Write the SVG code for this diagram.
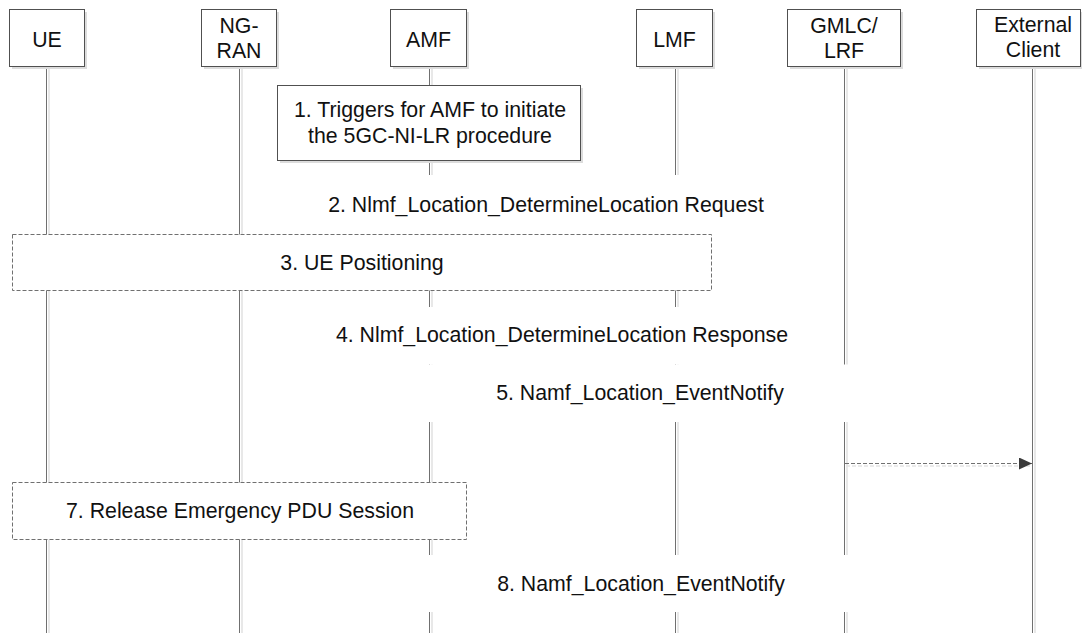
<svg xmlns="http://www.w3.org/2000/svg" width="1082" height="633" viewBox="0 0 1082 633">
  <style>
    .box { fill: #ffffff; stroke: #505050; stroke-width: 1; }
    .shadow { fill: #dcdcdc; }
    .life { stroke: #707070; stroke-width: 1; }
    .lifesh { stroke: #e8e8e8; stroke-width: 2; }
    .txt { font-family: "Liberation Sans", Arial, sans-serif; font-size: 21.3px; fill: #111111; text-anchor: middle; }
    .dbox { fill: #ffffff; stroke: #707070; stroke-width: 1; stroke-dasharray: 4 2; }
    .lblbg { fill: #ffffff; stroke: none; }
    .dash { stroke: #707070; stroke-width: 1.2; stroke-dasharray: 4 2; fill: none; }
  </style>
  <defs>
    <marker id="arr" markerWidth="14" markerHeight="14" refX="13" refY="6" orient="auto" markerUnits="userSpaceOnUse">
      <path d="M0,0 L13,6 L0,12 Z" fill="#3a3a3a"/>
    </marker>
  </defs>
  <rect x="0" y="0" width="1082" height="633" fill="#ffffff"/>

  <g id="node-ue">
    <line class="lifesh" x1="49" y1="66" x2="49" y2="633"/>
    <line class="life" x1="46.5" y1="66" x2="46.5" y2="633"/>
    <rect class="shadow" x="12" y="12" width="75" height="57"/>
    <rect class="box" x="9.5" y="9.5" width="75" height="57"/>
    <text class="txt" x="47" y="46.5">UE</text>
  </g>
  <g id="node-ngran">
    <line class="lifesh" x1="242" y1="66" x2="242" y2="633"/>
    <line class="life" x1="239.5" y1="66" x2="239.5" y2="633"/>
    <rect class="shadow" x="204" y="12" width="75" height="57"/>
    <rect class="box" x="201.5" y="9.5" width="75" height="57"/>
    <text class="txt" x="239" y="32.5">NG-</text>
    <text class="txt" x="239" y="58">RAN</text>
  </g>
  <g id="node-amf">
    <line class="lifesh" x1="432" y1="66" x2="432" y2="633"/>
    <line class="life" x1="429.5" y1="66" x2="429.5" y2="633"/>
    <rect class="shadow" x="393" y="12" width="76" height="57"/>
    <rect class="box" x="390.5" y="9.5" width="76" height="57"/>
    <text class="txt" x="428.5" y="46.5">AMF</text>
  </g>
  <g id="node-lmf">
    <line class="lifesh" x1="678" y1="66" x2="678" y2="633"/>
    <line class="life" x1="675.5" y1="66" x2="675.5" y2="633"/>
    <rect class="shadow" x="639" y="12" width="76" height="57"/>
    <rect class="box" x="636.5" y="9.5" width="76" height="57"/>
    <text class="txt" x="674.5" y="46.5">LMF</text>
  </g>
  <g id="node-gmlc">
    <line class="lifesh" x1="847" y1="66" x2="847" y2="633"/>
    <line class="life" x1="844.5" y1="66" x2="844.5" y2="633"/>
    <rect class="shadow" x="790" y="12" width="113" height="57"/>
    <rect class="box" x="787.5" y="9.5" width="113" height="57"/>
    <text class="txt" x="844" y="32.5">GMLC/</text>
    <text class="txt" x="844" y="58">LRF</text>
  </g>
  <g id="node-ext">
    <line class="lifesh" x1="1035" y1="66" x2="1035" y2="633"/>
    <line class="life" x1="1032.5" y1="66" x2="1032.5" y2="633"/>
    <rect class="shadow" x="979" y="12" width="104" height="57"/>
    <rect class="box" x="976.5" y="9.5" width="104" height="57"/>
    <text class="txt" x="1033" y="32">External</text>
    <text class="txt" x="1033" y="57">Client</text>
  </g>

  <g id="step1">
    <rect class="shadow" x="280" y="88" width="303" height="75"/>
    <rect class="box" x="277.5" y="85.5" width="303" height="75"/>
    <text class="txt" x="430" y="117">1. Triggers for AMF to initiate</text>
    <text class="txt" x="430" y="142.5">the 5GC-NI-LR procedure</text>
  </g>

  <g id="step3">
    <rect class="dbox" x="12.5" y="234.5" width="699" height="56"/>
    <text class="txt" x="362" y="270">3. UE Positioning</text>
  </g>

  <g id="step7">
    <rect class="dbox" x="12.5" y="482.5" width="454" height="57"/>
    <text class="txt" x="240" y="517.5">7. Release Emergency PDU Session</text>
  </g>

  <g id="connectors">
    <g id="msg2">
      <rect class="lblbg" x="300" y="175" width="500" height="59"/>
      <text class="txt" x="546" y="212">2. Nlmf_Location_DetermineLocation Request</text>
    </g>
    <g id="msg4">
      <rect class="lblbg" x="300" y="307" width="510" height="57.5"/>
      <text class="txt" x="562" y="342">4. Nlmf_Location_DetermineLocation Response</text>
    </g>
    <g id="msg5">
      <rect class="lblbg" x="420" y="364.5" width="440" height="57.5"/>
      <text class="txt" x="640" y="400">5. Namf_Location_EventNotify</text>
    </g>
    <g id="msg6">
      <line x1="846" y1="466" x2="1031" y2="466" stroke="#e4e4e4" stroke-width="1.5" stroke-dasharray="4 2"/>
      <line class="dash" x1="845" y1="463.5" x2="1032" y2="463.5" marker-end="url(#arr)"/>
    </g>
    <g id="msg8">
      <rect class="lblbg" x="420" y="555" width="440" height="57"/>
      <text class="txt" x="641" y="591">8. Namf_Location_EventNotify</text>
    </g>
  </g>
</svg>
